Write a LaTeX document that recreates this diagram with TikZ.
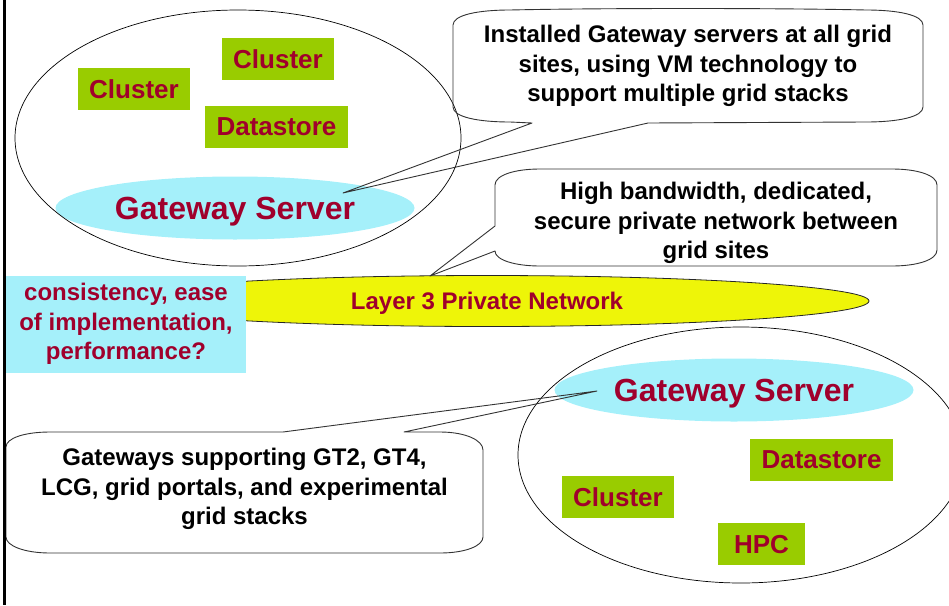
\documentclass[tikz,border=0pt]{standalone}
\usepackage{fontspec}
\setmainfont{Liberation Sans}
\usepackage{tikz}
\usetikzlibrary{shapes.geometric, calc}
\definecolor{leaf}{HTML}{99CC00}
\definecolor{wine}{HTML}{A0002C}
\definecolor{sky}{HTML}{A5F0FA}
\definecolor{lemon}{HTML}{EEF508}
\tikzstyle{tag} = [rectangle, fill=leaf, text=wine, inner sep=0pt, minimum height=42pt,
text depth=0pt, font=\fontsize{26}{30}\selectfont\bfseries]
\tikzstyle{gw} = [ellipse, fill=sky, text=wine, inner sep=0pt, minimum width=359pt,
minimum height=63pt, text depth=0pt, font=\fontsize{32}{36}\selectfont\bfseries]
\tikzstyle{balloon} = [draw=black!80, line width=0.9pt, line join=round]

\begin{document}
\begin{tikzpicture}[x=1pt, y=-1pt]
  \tikzstyle{site}=[ellipse, draw, line width=0.7pt, minimum width=446pt, minimum height=256pt]
  \tikzstyle{note}=[align=center, inner sep=0pt, font=\fontsize{24}{29.5}\selectfont\bfseries]
  \useasboundingbox (0,0) rectangle (949,605);

  % upper site
  \node (gs1) [gw] at (235,208) {Gateway Server};
  \node (site1) [site] at (238,138) {};
  \node (cl1) [tag, minimum width=112pt] at (134,89) {Cluster};
  \node (cl2) [tag, minimum width=112pt] at (278,59) {Cluster};
  \node (ds1) [tag, minimum width=143pt] at (276.5,127) {Datastore};

  % network
  \node (net) [ellipse, fill=lemon, draw=black!85, line width=0.8pt, inner sep=0pt,
    minimum width=764pt, minimum height=51pt, text=wine, text depth=0pt,
    font=\fontsize{24}{28}\selectfont\bfseries] at (487,301) {Layer 3 Private Network};
  \node (ask) [rectangle, fill=sky, text=wine, note, minimum width=240pt,
    minimum height=97pt] at (126,324) {consistency, ease\\of implementation,\\performance?};

  % lower site
  \node (gs2) [gw] at (734,390) {Gateway Server};
  \node (site2) [site] at (741,455) {};
  \node (ds2) [tag, minimum width=143pt] at (821.5,460) {Datastore};
  \node (cl3) [tag, minimum width=112pt] at (618,497) {Cluster};
  \node (hpc) [tag, minimum width=87pt] at (761.5,544) {HPC};

  % callouts
  \node (n1) [note] at (688,66) {Installed Gateway servers at all grid\\sites, using VM technology to\\support multiple grid stacks};
  \node (n2) [note] at (716,223) {High bandwidth, dedicated,\\secure private network between\\grid sites};
  \node (n3) [note] at (244.5,489) {Gateways supporting GT2, GT4,\\LCG, grid portals, and experimental\\grid stacks};
  \coordinate (tip1) at ($(gs1)+(108,-15)$);
  \coordinate (tip2) at (430,276);
  \coordinate (tip3) at ($(gs2)+(-137,1)$);

  \draw[balloon] (453,25) .. controls (453,15) and (478,10) .. (510,10)
    .. controls (600,8) and (776,8) .. (866,10) .. controls (898,10) and (923,15) .. (923,25)
    -- (923,107) .. controls (923,117) and (898,122) .. (866,122) -- (648,123) -- (tip1)
    -- (532,123) -- (510,122) .. controls (478,122) and (453,117) .. (453,107) -- cycle;
  \draw[balloon] (495,185) .. controls (495,175) and (515,169) .. (540,169)
    -- (892,169) .. controls (917,169) and (937,175) .. (937,185)
    -- (937,250) .. controls (937,260) and (917,266) .. (892,266)
    -- (540,266) .. controls (515,266) and (495,260) .. (495,251) -- (tip2) -- (495,226) -- cycle;
  \draw[balloon] (6,447) .. controls (6,438) and (25,432) .. (50,432) -- (283,432) -- (tip3)
    -- (404,432) -- (440,432) .. controls (465,432) and (483,440) .. (483,450)
    -- (483,537) .. controls (483,546) and (465,553) .. (440,553)
    -- (50,553) .. controls (25,553) and (6,546) .. (6,537) -- cycle;

  \draw[line width=3pt] (4.8,0) -- (4.8,605);
\end{tikzpicture}
\end{document}
